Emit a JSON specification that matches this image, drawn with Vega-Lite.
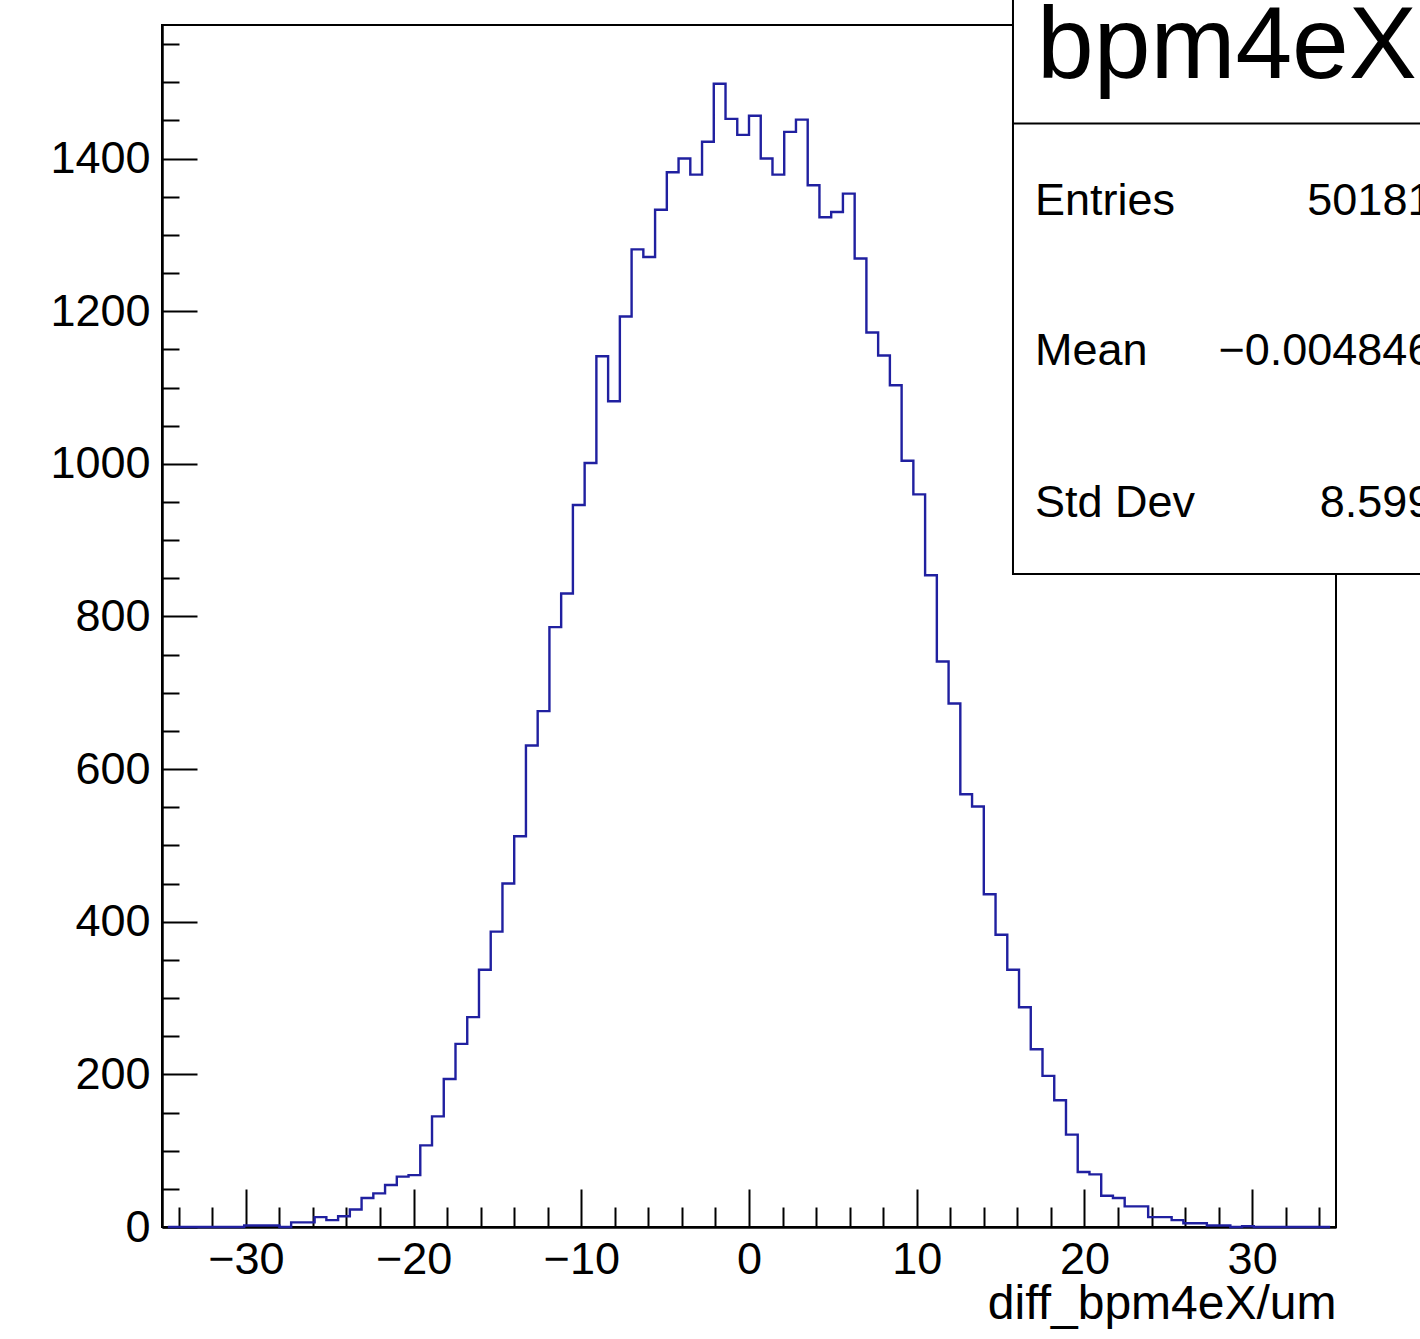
{
  "$schema": "https://vega.github.io/schema/vega-lite/v6.json",
  "width": 1174,
  "height": 1202,
  "autosize": {"type": "none"},
  "padding": {"left": 162, "top": 25, "right": 84, "bottom": 112},
  "background": "white",
  "config": {
    "view": {"stroke": "black", "strokeWidth": 2},
    "font": "Liberation Sans",
    "axis": {"grid": false, "zindex": 1, "tickColor": "black", "domainColor": "black", "labelColor": "black", "titleColor": "black"}
  },
  "datasets": {
    "hist": [
      {"x": -34.65, "count": 0}, {"x": -33.95, "count": 0}, {"x": -33.25, "count": 0}, {"x": -32.55, "count": 0},
      {"x": -31.85, "count": 0}, {"x": -31.15, "count": 0}, {"x": -30.45, "count": 0}, {"x": -29.75, "count": 2},
      {"x": -29.05, "count": 2}, {"x": -28.35, "count": 2}, {"x": -27.65, "count": 0}, {"x": -26.95, "count": 6},
      {"x": -26.25, "count": 6}, {"x": -25.55, "count": 13}, {"x": -24.85, "count": 9}, {"x": -24.15, "count": 14},
      {"x": -23.45, "count": 23}, {"x": -22.75, "count": 38}, {"x": -22.05, "count": 44}, {"x": -21.35, "count": 55},
      {"x": -20.65, "count": 66}, {"x": -19.95, "count": 68}, {"x": -19.25, "count": 107}, {"x": -18.55, "count": 145},
      {"x": -17.85, "count": 194}, {"x": -17.15, "count": 240}, {"x": -16.45, "count": 275}, {"x": -15.75, "count": 337},
      {"x": -15.05, "count": 387}, {"x": -14.35, "count": 450}, {"x": -13.65, "count": 512}, {"x": -12.95, "count": 631},
      {"x": -12.25, "count": 676}, {"x": -11.55, "count": 786}, {"x": -10.85, "count": 830}, {"x": -10.15, "count": 946},
      {"x": -9.45, "count": 1001}, {"x": -8.75, "count": 1141}, {"x": -8.05, "count": 1082}, {"x": -7.35, "count": 1193},
      {"x": -6.65, "count": 1281}, {"x": -5.95, "count": 1271}, {"x": -5.25, "count": 1333}, {"x": -4.55, "count": 1382},
      {"x": -3.85, "count": 1400}, {"x": -3.15, "count": 1379}, {"x": -2.45, "count": 1422}, {"x": -1.75, "count": 1498},
      {"x": -1.05, "count": 1452}, {"x": -0.35, "count": 1431}, {"x": 0.35, "count": 1456}, {"x": 1.05, "count": 1400},
      {"x": 1.75, "count": 1379}, {"x": 2.45, "count": 1435}, {"x": 3.15, "count": 1451}, {"x": 3.85, "count": 1365},
      {"x": 4.55, "count": 1323}, {"x": 5.25, "count": 1330}, {"x": 5.95, "count": 1354}, {"x": 6.65, "count": 1269},
      {"x": 7.35, "count": 1172}, {"x": 8.05, "count": 1142}, {"x": 8.75, "count": 1103}, {"x": 9.45, "count": 1004},
      {"x": 10.15, "count": 960}, {"x": 10.85, "count": 854}, {"x": 11.55, "count": 741}, {"x": 12.25, "count": 686},
      {"x": 12.95, "count": 567}, {"x": 13.65, "count": 551}, {"x": 14.35, "count": 436}, {"x": 15.05, "count": 383},
      {"x": 15.75, "count": 337}, {"x": 16.45, "count": 288}, {"x": 17.15, "count": 233}, {"x": 17.85, "count": 198},
      {"x": 18.55, "count": 166}, {"x": 19.25, "count": 121}, {"x": 19.95, "count": 72}, {"x": 20.65, "count": 69},
      {"x": 21.35, "count": 41}, {"x": 22.05, "count": 38}, {"x": 22.75, "count": 27}, {"x": 23.45, "count": 27},
      {"x": 24.15, "count": 13}, {"x": 24.85, "count": 13}, {"x": 25.55, "count": 9}, {"x": 26.25, "count": 5},
      {"x": 26.95, "count": 5}, {"x": 27.65, "count": 2}, {"x": 28.35, "count": 2}, {"x": 29.05, "count": 0},
      {"x": 29.75, "count": 1}, {"x": 30.45, "count": 0}, {"x": 31.15, "count": 0}, {"x": 31.85, "count": 0},
      {"x": 32.55, "count": 0}, {"x": 33.25, "count": 0}, {"x": 33.95, "count": 0}, {"x": 34.65, "count": 0}
    ],
    "box": [{"title": "bpm4eX"}],
    "stats": [
      {"stat": "Entries", "value": "50181"},
      {"stat": "Mean", "value": "−0.004846"},
      {"stat": "Std Dev", "value": "8.599"}
    ]
  },
  "layer": [
    {
      "data": {"name": "hist"},
      "mark": {"type": "line", "interpolate": "step", "color": "#2020a0", "strokeWidth": 2.4, "clip": false},
      "encoding": {
        "x": {
          "field": "x", "type": "quantitative",
          "scale": {"domain": [-35, 35], "nice": false, "zero": false},
          "axis": {
            "orient": "bottom",
            "values": [-30, -20, -10, 0, 10, 20, 30],
            "tickSize": -38, "tickWidth": 2,
            "domainWidth": 2.5,
            "labelFontSize": 45, "labelFont": "Liberation Sans", "labelPadding": 48,
            "labelFlush": false, "labelOverlap": false, "format": "d",
            "title": "diff_bpm4eX/um",
            "titleFont": "Liberation Sans", "titleFontSize": 48, "titleFontWeight": "normal",
            "titleAnchor": "end", "titleAlign": "right", "titleBaseline": "alphabetic", "titleY": 91
          }
        },
        "y": {
          "field": "count", "type": "quantitative",
          "scale": {"domain": [0, 1575], "nice": false, "zero": true},
          "axis": {
            "orient": "left",
            "values": [0, 200, 400, 600, 800, 1000, 1200, 1400],
            "tickSize": -35, "tickWidth": 2,
            "domainWidth": 2.5,
            "labelFontSize": 45, "labelFont": "Liberation Sans", "labelPadding": 47,
            "labelFlush": false, "labelOverlap": false, "format": "d",
            "title": null
          }
        }
      }
    },
    {
      "data": {"name": "hist"},
      "mark": {"type": "line", "interpolate": "step", "opacity": 0, "clip": false},
      "encoding": {
        "x": {
          "field": "x", "type": "quantitative",
          "axis": {
            "orient": "bottom",
            "values": [-34, -32, -28, -26, -24, -22, -18, -16, -14, -12, -8, -6, -4, -2, 2, 4, 6, 8, 12, 14, 16, 18, 22, 24, 26, 28, 32, 34],
            "tickSize": -20, "tickWidth": 2,
            "domain": false, "labels": false, "title": null
          }
        },
        "y": {
          "field": "count", "type": "quantitative",
          "axis": {
            "orient": "left",
            "values": [50, 100, 150, 250, 300, 350, 450, 500, 550, 650, 700, 750, 850, 900, 950, 1050, 1100, 1150, 1250, 1300, 1350, 1450, 1500, 1550],
            "tickSize": -17, "tickWidth": 2,
            "domain": false, "labels": false, "title": null
          }
        }
      }
    },
    {
      "data": {"name": "box"},
      "mark": {"type": "rect", "fill": "white", "stroke": "black", "strokeWidth": 2, "clip": false},
      "encoding": {
        "x": {"datum": 15.74, "type": "quantitative", "axis": null},
        "x2": {"datum": 45},
        "y": {"datum": 1650, "type": "quantitative", "axis": null},
        "y2": {"datum": 855.6}
      }
    },
    {
      "data": {"name": "box"},
      "mark": {"type": "rule", "stroke": "black", "strokeWidth": 2, "clip": false},
      "encoding": {
        "x": {"datum": 15.74, "type": "quantitative", "axis": null},
        "x2": {"datum": 45},
        "y": {"datum": 1446, "type": "quantitative", "axis": null}
      }
    },
    {
      "data": {"name": "box"},
      "mark": {"type": "text", "align": "left", "baseline": "alphabetic", "fontSize": 102, "font": "Liberation Sans", "color": "black", "clip": false},
      "encoding": {
        "x": {"datum": 17.17, "type": "quantitative", "axis": null},
        "y": {"datum": 1505.6, "type": "quantitative", "axis": null},
        "text": {"field": "title"}
      }
    },
    {
      "data": {"name": "stats"},
      "transform": [{"filter": "datum.stat === 'Entries'"}],
      "layer": [
        {
          "mark": {"type": "text", "align": "left", "baseline": "alphabetic", "fontSize": 45, "font": "Liberation Sans", "color": "black", "clip": false},
          "encoding": {
            "x": {"datum": 17.05, "type": "quantitative", "axis": null},
            "y": {"datum": 1326, "type": "quantitative", "axis": null},
            "text": {"field": "stat"}
          }
        },
        {
          "mark": {"type": "text", "align": "right", "baseline": "alphabetic", "fontSize": 45, "font": "Liberation Sans", "color": "black", "clip": false},
          "encoding": {
            "x": {"datum": 40.75, "type": "quantitative", "axis": null},
            "y": {"datum": 1326, "type": "quantitative", "axis": null},
            "text": {"field": "value"}
          }
        }
      ]
    },
    {
      "data": {"name": "stats"},
      "transform": [{"filter": "datum.stat === 'Mean'"}],
      "layer": [
        {
          "mark": {"type": "text", "align": "left", "baseline": "alphabetic", "fontSize": 45, "font": "Liberation Sans", "color": "black", "clip": false},
          "encoding": {
            "x": {"datum": 17.05, "type": "quantitative", "axis": null},
            "y": {"datum": 1129.5, "type": "quantitative", "axis": null},
            "text": {"field": "stat"}
          }
        },
        {
          "mark": {"type": "text", "align": "right", "baseline": "alphabetic", "fontSize": 45, "font": "Liberation Sans", "color": "black", "clip": false},
          "encoding": {
            "x": {"datum": 40.75, "type": "quantitative", "axis": null},
            "y": {"datum": 1129.5, "type": "quantitative", "axis": null},
            "text": {"field": "value"}
          }
        }
      ]
    },
    {
      "data": {"name": "stats"},
      "transform": [{"filter": "datum.stat === 'Std Dev'"}],
      "layer": [
        {
          "mark": {"type": "text", "align": "left", "baseline": "alphabetic", "fontSize": 45, "font": "Liberation Sans", "color": "black", "clip": false},
          "encoding": {
            "x": {"datum": 17.05, "type": "quantitative", "axis": null},
            "y": {"datum": 930.7, "type": "quantitative", "axis": null},
            "text": {"field": "stat"}
          }
        },
        {
          "mark": {"type": "text", "align": "right", "baseline": "alphabetic", "fontSize": 45, "font": "Liberation Sans", "color": "black", "clip": false},
          "encoding": {
            "x": {"datum": 40.75, "type": "quantitative", "axis": null},
            "y": {"datum": 930.7, "type": "quantitative", "axis": null},
            "text": {"field": "value"}
          }
        }
      ]
    }
  ],
  "resolve": {"axis": {"x": "independent", "y": "independent"}}
}
